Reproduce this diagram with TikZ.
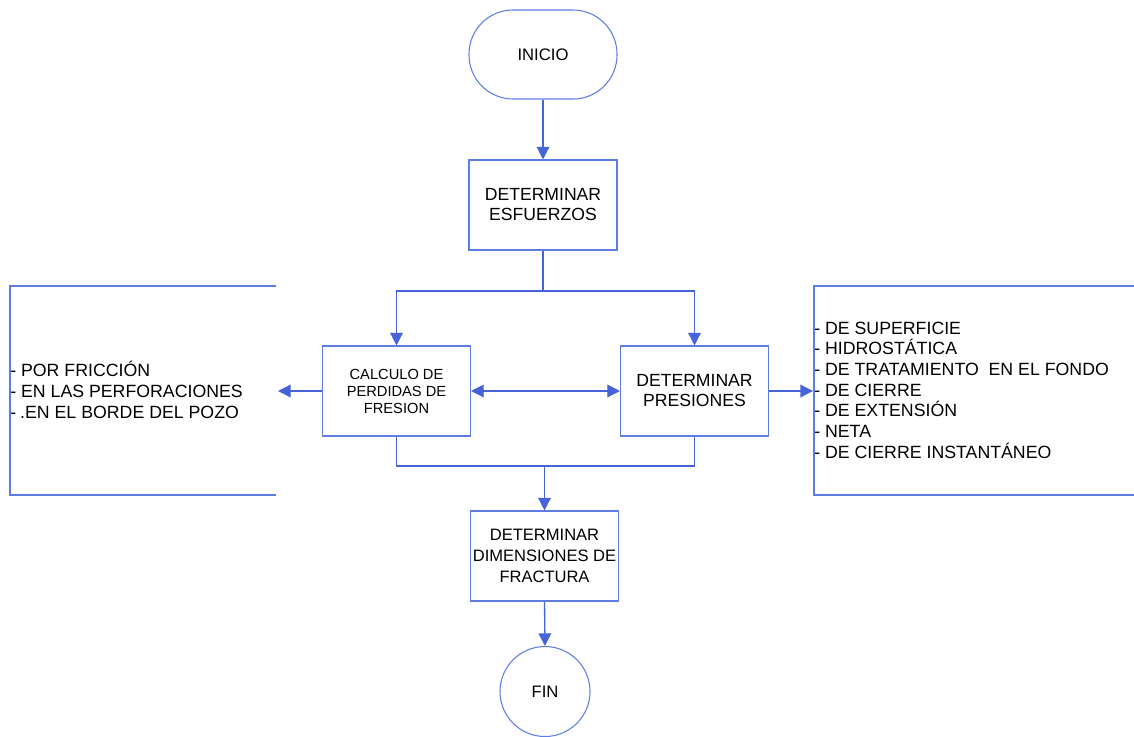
\documentclass[tikz,border=0pt]{standalone}
\usepackage{fontspec}
\setmainfont{Liberation Sans}
\usetikzlibrary{arrows.meta,shapes.geometric}
\definecolor{bordc}{RGB}{95,125,225}
\definecolor{arrc}{RGB}{70,100,215}
\tikzset{
  box/.style={draw=bordc,line width=0.8pt,minimum width=111pt,minimum height=67.5pt,align=center,inner sep=0pt,font=\fontsize{13.2}{15}\selectfont},
  term/.style={draw=bordc,line width=0.8pt,minimum width=111pt,minimum height=66.75pt,rounded corners=33pt,align=center,font=\fontsize{12.5}{15}\selectfont},
  endc/.style={draw=bordc,line width=0.8pt,circle,minimum size=67.5pt,inner sep=0pt,font=\fontsize{12.5}{15}\selectfont},
  conn/.style={draw=arrc,line width=1pt},
  arr/.style={conn,-{Triangle[length=9.5pt,width=9.5pt]}},
  darr/.style={conn,{Triangle[length=9.5pt,width=9.5pt]}-{Triangle[length=9.5pt,width=9.5pt]}},
  bracket/.style={draw=bordc,line width=0.8pt},
  listtxt/.style={anchor=west,align=left,inner sep=0pt,font=\fontsize{13.3}{15.5}\selectfont}
}
\begin{document}
\begin{tikzpicture}[x=0.75pt,y=-0.75pt]
\useasboundingbox (0,0) rectangle (1134,736);
\node[term] (inicio) at (543,54.5) {INICIO};
\node[box] (esf) at (543,205) {DETERMINAR\\ESFUERZOS};
\node[box,font=\fontsize{11}{12.75}\selectfont] (calc) at (396.5,391) {CALCULO DE\\PERDIDAS DE\\FRESION};
\node[box] (pres) at (694.5,391) {DETERMINAR\\PRESIONES};
\node[box,font=\fontsize{12.4}{15.75}\selectfont] (dim) at (544.5,556) {DETERMINAR\\DIMENSIONES DE\\FRACTURA};
\node[endc] (fin) at (545,691.5) {FIN};
% left bracket box
\draw[bracket] (276,286) -- (10,286) -- (10,495) -- (276,495);
\node[listtxt] (llist) at (10,390) {- POR FRICCIÓN\\- EN LAS PERFORACIONES\\-\hspace{3pt}.EN EL BORDE DEL POZO};
\coordinate (lend) at (278,391);
% right bracket box
\draw[bracket] (1134,286) -- (814,286) -- (814,495) -- (1134,495);
\node[listtxt] (rlist) at (814,390) {- DE SUPERFICIE\\- HIDROSTÁTICA\\- DE TRATAMIENTO\ \ EN EL FONDO\\- DE CIERRE\\- DE EXTENSIÓN\\- NETA\\- DE CIERRE INSTANTÁNEO};
\coordinate (rend) at (813,391);
\coordinate (split) at (543,291);
\coordinate (merge) at (544.5,466);
% connectors
\draw[arr] (inicio) -- (esf);
\draw[conn] (esf.south) -- (split);
\draw[arr] (split) -| (calc.north);
\draw[arr] (split) -| (pres.north);
\draw[darr] (calc.east) -- (pres.west);
\draw[arr] (calc.west) -- (lend);
\draw[arr] (pres.east) -- (rend);
\draw[conn] (calc.south) |- (merge) -| (pres.south);
\draw[arr] (merge) -- (dim.north);
\draw[arr] (dim.south) -- (fin.north);
\end{tikzpicture}
\end{document}
